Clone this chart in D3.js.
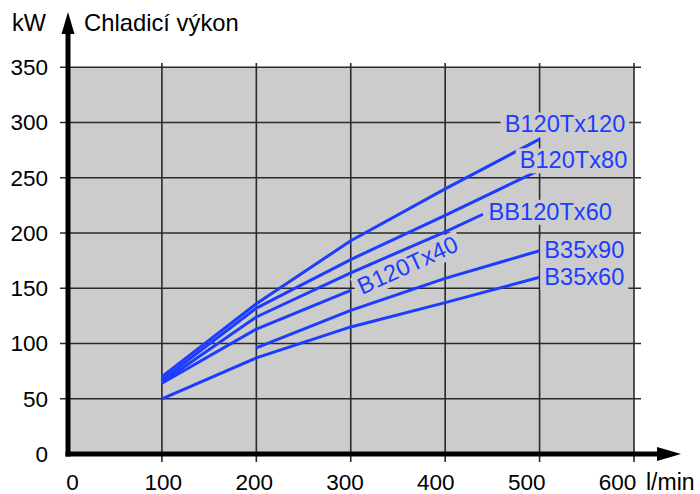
<!DOCTYPE html>
<html>
<head>
<meta charset="utf-8">
<script src="https://cdn.jsdelivr.net/npm/d3@7"></script>
<style>
  body { margin: 0; background: #fff; }
  text { font-family: "Liberation Sans", Arial, sans-serif; }
</style>
</head>
<body>
<div id="chart"></div>
<script>
// ----- data -----
const xTicks = [0, 100, 200, 300, 400, 500, 600];
const yTicks = [0, 50, 100, 150, 200, 250, 300, 350];

const seriesNames = ["B120Tx120", "B120Tx80", "BB120Tx60", "B120Tx40", "B35x90", "B35x60"];

// [flow l/min, cooling kW]
const b120tx120 = [[100, 70], [200, 136], [300, 193], [400, 240], [500, 285]];
const b120tx80  = [[100, 67], [200, 132], [300, 176], [400, 216], [500, 257]];
const bb120tx60 = [[100, 65], [200, 124], [300, 164], [400, 201], [440, 217]];
const b120tx40  = [[100, 64], [200, 113], [300, 148]];
const b35x90    = [[200, 96], [300, 130], [400, 159], [500, 184]];
const b35x60    = [[100, 50], [200, 87], [300, 115], [400, 137], [500, 160]];

const seriesValues = [b120tx120, b120tx80, bb120tx60, b120tx40, b35x90, b35x60];

// label anchors in data units (text start, baseline) + rotation
const labelPos = [
  { x: 463, y: 291, rot: 0 },
  { x: 479, y: 258.5, rot: 0 },
  { x: 446, y: 212, rot: 0 },
  { x: 312, y: 144, rot: -24.6 },
  { x: 505, y: 177, rot: 0 },
  { x: 505, y: 153, rot: 0 }
];

// ----- svg -----
const width = 700, height = 494;
const blue = "#1c3dff";
const grid = "#2a2a2a";

const svg = d3.select("#chart").append("svg")
  .attr("width", width)
  .attr("height", height);

const x = d3.scaleLinear().domain([0, 600]).range([67.5, 634]);
const y = d3.scaleLinear().domain([0, 350]).range([454, 67.3]);
// tick labels in the original drift a little left of the grid
const xLab = d3.scaleLinear().domain([0, 600]).range([72.5, 617.5]);

// plot background
svg.append("rect")
  .attr("x", x(0))
  .attr("y", y(350))
  .attr("width", x(600) - x(0))
  .attr("height", y(0) - y(350))
  .attr("fill", "#cccccc");

// grid lines
svg.append("g")
  .selectAll("line")
  .data(yTicks.filter(d => d > 0))
  .join("line")
    .attr("x1", 60).attr("x2", 641)
    .attr("y1", d => y(d)).attr("y2", d => y(d))
    .attr("stroke", grid).attr("stroke-width", 1.6);

svg.append("g")
  .selectAll("line")
  .data(xTicks.filter(d => d > 0))
  .join("line")
    .attr("x1", d => x(d)).attr("x2", d => x(d))
    .attr("y1", 63).attr("y2", 462)
    .attr("stroke", grid).attr("stroke-width", 1.6);

// series lines
const line = d3.line().x(d => x(d[0])).y(d => y(d[1]));

svg.append("g")
  .selectAll("path")
  .data(seriesValues)
  .join("path")
    .attr("d", line)
    .attr("fill", "none")
    .attr("stroke", blue)
    .attr("stroke-width", 3)
    .attr("stroke-linejoin", "round");

// series labels with gray boxes hiding the grid
const labels = svg.append("g");
seriesNames.forEach((name, i) => {
  const p = labelPos[i];
  const g = labels.append("g")
    .attr("transform", `translate(${x(p.x)},${y(p.y)}) rotate(${p.rot})`);
  const bg = g.append("rect").attr("fill", "#cccccc");
  const t = g.append("text")
    .attr("x", 0).attr("y", 0)
    .attr("fill", blue)
    .style("font-size", "23.6px")
    .text(name);
  const b = t.node().getBBox();
  bg.attr("x", b.x - 4).attr("y", b.y + 1)
    .attr("width", b.width + 8).attr("height", b.height - 1);
});

// axes with arrows
svg.append("line")
  .attr("x1", 68).attr("x2", 68)
  .attr("y1", 456.5).attr("y2", 30)
  .attr("stroke", "#000").attr("stroke-width", 5);
svg.append("path")
  .attr("d", "M68,12 L61.5,34 L74.5,34 Z")
  .attr("fill", "#000");

svg.append("line")
  .attr("x1", 65.5).attr("x2", 662)
  .attr("y1", 454).attr("y2", 454)
  .attr("stroke", "#000").attr("stroke-width", 5);
svg.append("path")
  .attr("d", "M681,454 L657,447 L657,461 Z")
  .attr("fill", "#000");

// tick labels
svg.append("g")
  .selectAll("text")
  .data(yTicks)
  .join("text")
    .attr("x", 48)
    .attr("y", d => y(d))
    .attr("dy", "0.35em")
    .attr("text-anchor", "end")
    .style("font-size", "22.5px")
    .text(d => d);

svg.append("g")
  .selectAll("text")
  .data(xTicks)
  .join("text")
    .attr("x", d => xLab(d))
    .attr("y", 490)
    .attr("text-anchor", "middle")
    .style("font-size", "22.5px")
    .text(d => d);

// axis titles
svg.append("text")
  .attr("x", 12).attr("y", 31)
  .style("font-size", "23.5px")
  .text("kW");
svg.append("text")
  .attr("x", 84).attr("y", 31)
  .style("font-size", "23.8px")
  .text("Chladicí výkon");
svg.append("text")
  .attr("x", 646).attr("y", 490)
  .style("font-size", "23px")
  .text("l/min");
</script>
</body>
</html>
